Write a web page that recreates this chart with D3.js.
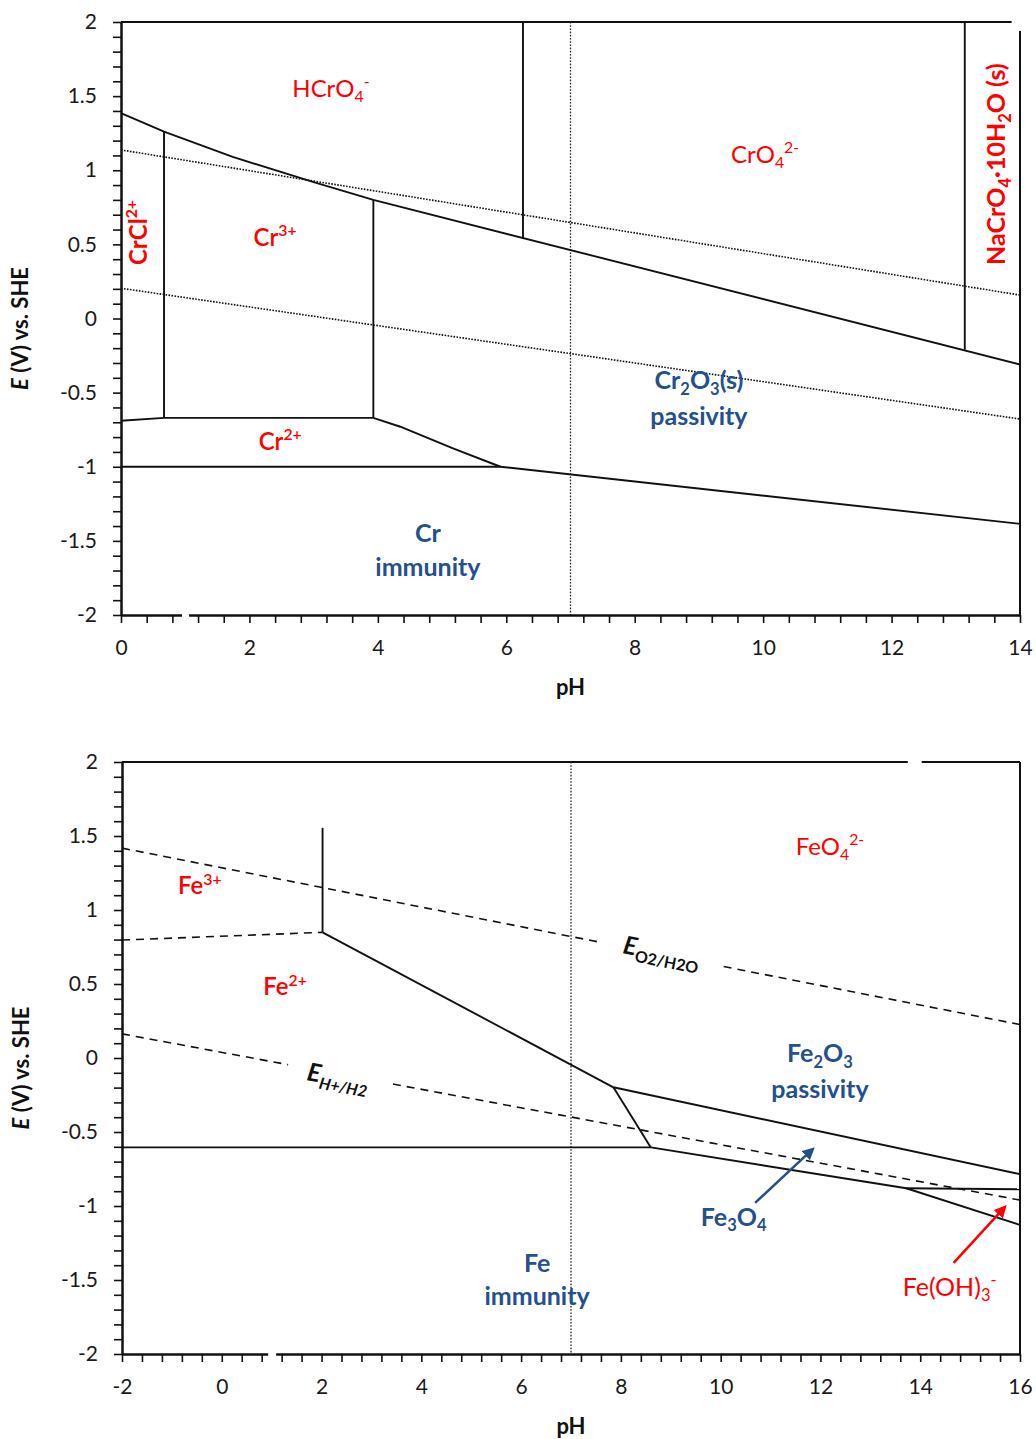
<!DOCTYPE html>
<html>
<head>
<meta charset="utf-8">
<script src="https://cdn.jsdelivr.net/npm/d3@7"></script>
<style>
  body { margin: 0; background: #fff; }
  svg text { font-family: Lato, "Open Sans", sans-serif; }
</style>
</head>
<body>
<svg id="chart" width="1036" height="1439"></svg>
<script>
// E axis is the same for both diagrams
const eTicks = [-2, -1.5, -1, -0.5, 0, 0.5, 1, 1.5, 2];

// ---- Cr diagram: boundaries as [pH, E (V)] ----
const crXTicks = [0, 2, 4, 6, 8, 10, 12, 14];
const crUpper = [[0, 1.385], [0.67, 1.26], [1.74, 1.09], [3.0, 0.92], [3.93, 0.80], [14, -0.31]];
const crHCrO4CrO4 = [[6.26, 2], [6.26, 0.54]];
const crNaCrO4 = [[13.14, 2], [13.14, -0.21]];
const crCrCl = [[0.67, 1.26], [0.67, -0.67]];
const crCr3Oxide = [[3.93, 0.80], [3.93, -0.67]];
const crCr2Top = [[0, -0.69], [0.67, -0.67], [3.93, -0.67], [4.35, -0.73], [5.17, -0.876], [5.91, -1.0]];
const crCr2Bottom = [[0, -1.0], [5.91, -1.0], [14, -1.385]];
const crWaterO2 = [[0, 1.137], [14, 0.158]];
const crWaterH2 = [[0, 0.204], [14, -0.678]];

// ---- Fe diagram ----
const feXTicks = [-2, 0, 2, 4, 6, 8, 10, 12, 14, 16];
const feO2Left = [[-2, 1.418], [7.54, 0.785]];
const feO2Right = [[10.06, 0.618], [16, 0.226]];
const feH2Left = [[-2, 0.163], [1.33, -0.045]];
const feH2Right = [[3.43, -0.176], [16, -0.96]];
const feFe3Fe2 = [[-2, 0.797], [2.02, 0.849]];
const feFe3Oxide = [[2.02, 0.849], [2.02, 1.555]];
const feFe2Oxide = [[2.02, 0.849], [7.85, -0.198]];
const feFe3O4Left = [[7.85, -0.198], [8.6, -0.604]];
const feFe2Metal = [[-2, -0.604], [8.6, -0.604]];
const feOxideFe3O4 = [[7.85, -0.198], [16, -0.785]];
const feFe3O4Metal = [[8.6, -0.604], [13.72, -0.88], [16, -1.128]];
const feFeOH3 = [[13.72, -0.88], [16, -0.887]];

const red = "#ff0000", blue = "#24508e";

// labels: [pH, E, parts, colour, weight, size]
const crLabels = [
  [3.27, 1.494, [["HCrO"], ["4", "sub"], ["-", "sup"]], red, 400, 24],
  [10.03, 1.049, [["CrO"], ["4", "sub"], ["2-", "sup"]], red, 400, 24],
  [2.40, 0.489, [["Cr"], ["3+", "sup"]], red, 600, 24],
  [2.48, -0.887, [["Cr"], ["2+", "sup"]], red, 600, 24],
  [9.0, -0.476, [["Cr"], ["2", "sub"], ["O"], ["3", "sub"], ["(s)"]], blue, 700, 25],
  [9.0, -0.716, [["passivity"]], blue, 700, 25],
  [4.78, -1.51, [["Cr"]], blue, 700, 25],
  [4.78, -1.74, [["immunity"]], blue, 700, 25]
];
const crRotLabels = [
  [0.405, 0.361, [["CrCl"], ["2+", "sup"]], red, 700, 24],
  [13.77, 0.361, [["NaCrO"], ["4", "sub"], ["·10H"], ["2", "sub"], ["O (s)"]], red, 700, 25]
];
const feLabels = [
  [-0.44, 1.107, [["Fe"], ["3+", "sup"]], red, 600, 24],
  [1.27, 0.425, [["Fe"], ["2+", "sup"]], red, 600, 24],
  [12.19, 1.371, [["FeO"], ["4", "sub"], ["2-", "sup"]], red, 400, 24],
  [11.99, -0.03, [["Fe"], ["2", "sub"], ["O"], ["3", "sub"]], blue, 700, 25],
  [11.99, -0.267, [["passivity"]], blue, 700, 25],
  [10.26, -1.134, [["Fe"], ["3", "sub"], ["O"], ["4", "sub"]], blue, 700, 25],
  [6.32, -1.445, [["Fe"]], blue, 700, 25],
  [6.32, -1.668, [["immunity"]], blue, 700, 25],
  [14.59, -1.607, [["Fe(OH)"], ["3", "sub"], ["-", "sup"]], red, 400, 25]
];
// arrows: from [pH, E] to [pH, E]
const feArrows = [
  [[10.69, -0.979], [11.85, -0.614], blue],
  [[14.67, -1.384], [15.70, -1.006], red]
];

const svg = d3.select("#chart");

const defs = svg.append("defs");
[["arrow-blue", blue], ["arrow-red", red]].forEach(([id, c]) => {
  defs.append("marker")
    .attr("id", id)
    .attr("viewBox", "0 0 10 10")
    .attr("refX", 8).attr("refY", 5)
    .attr("markerWidth", 5).attr("markerHeight", 5)
    .attr("orient", "auto")
    .append("path")
    .attr("d", "M0,0 L10,5 L0,10 z")
    .attr("fill", c);
});

function chemText(g, x, y, parts, colour, weight, size) {
  const t = g.append("text")
    .attr("x", x).attr("y", y)
    .attr("fill", colour)
    .attr("font-weight", weight)
    .attr("font-size", size);
  let shift = 0;
  parts.forEach(([s, kind]) => {
    let target = 0;
    if (kind === "sub") target = size * 0.22;
    if (kind === "sup") target = -size * 0.4;
    t.append("tspan")
      .attr("dy", target - shift)
      .attr("font-size", kind ? size * 0.66 : size)
      .text(s);
    shift = target;
  });
  return t;
}

function drawPanel(p) {
  const x = d3.scaleLinear().domain(p.xDomain).range([p.left, p.right]);
  const y = d3.scaleLinear().domain([-2, 2]).range([p.bottom, p.top]);
  const g = svg.append("g");
  const line = d3.line().x(d => x(d[0])).y(d => y(d[1]));

  // frame
  g.append("line")
    .attr("x1", x(p.xDomain[0])).attr("x2", x(p.xDomain[1]))
    .attr("y1", y(2)).attr("y2", y(2))
    .attr("stroke", "#111").attr("stroke-width", 2);
  g.append("line")
    .attr("x1", x(p.xDomain[1])).attr("x2", x(p.xDomain[1]))
    .attr("y1", y(2)).attr("y2", y(-2))
    .attr("stroke", "#111").attr("stroke-width", 2);

  // neutral pH
  g.append("line")
    .attr("x1", x(7)).attr("x2", x(7))
    .attr("y1", y(2)).attr("y2", y(-2))
    .attr("stroke", "#222").attr("stroke-width", 1.3)
    .attr("stroke-dasharray", "1.6,1.6");

  p.lines.forEach(l => {
    g.append("path")
      .attr("d", line(l.pts))
      .attr("fill", "none")
      .attr("stroke", "#111")
      .attr("stroke-width", l.style === "solid" ? 1.9 : 1.6)
      .attr("stroke-dasharray", l.style === "dotted" ? "1.6,1.4" : l.style === "dashed" ? "8,6" : null);
  });

  // axes
  const yMinor = d3.range(-20, 21).map(v => v / 10);
  const isY = v => eTicks.some(t => Math.abs(t - v) < 1e-6);
  const yAxis = g.append("g")
    .attr("transform", `translate(${p.left},0)`)
    .call(d3.axisLeft(y).tickValues(yMinor).tickSize(8).tickSizeOuter(0).tickPadding(16)
      .tickFormat(v => isY(v) ? String(Math.round(v * 10) / 10) : ""));

  const xMinor = d3.range(0, Math.round((p.xDomain[1] - p.xDomain[0]) / 0.4) + 1)
    .map(i => Math.round((p.xDomain[0] + i * 0.4) * 10) / 10);
  const isX = v => p.xTicks.some(t => Math.abs(t - v) < 1e-6);
  const xAxis = g.append("g")
    .attr("transform", `translate(0,${p.bottom})`)
    .call(d3.axisBottom(x).tickValues(xMinor).tickSize(8).tickSizeOuter(0).tickPadding(17)
      .tickFormat(v => isX(v) ? String(Math.round(v)) : ""));

  [yAxis, xAxis].forEach(a => {
    a.select(".domain").attr("stroke", "#111").attr("stroke-width", 2.5);
    a.selectAll(".tick line").attr("stroke", "#111").attr("stroke-width", 1.6);
    a.selectAll(".tick text").attr("font-size", 21).attr("fill", "#1a1a1a");
  });

  // small white breaks seen in the original scan
  p.breaks.forEach(b => {
    g.append("rect")
      .attr("x", x(b[0])).attr("width", x(b[1]) - x(b[0]))
      .attr("y", y(b[2]) - 3).attr("height", y(b[3]) - y(b[2]) + 6)
      .attr("fill", "#fff");
  });

  // labels
  p.labels.forEach(([lx, ly, parts, c, w, s]) => {
    chemText(g, x(lx), y(ly), parts, c, w, s).attr("text-anchor", "middle");
  });
  (p.rotLabels || []).forEach(([lx, ly, parts, c, w, s]) => {
    chemText(g, 0, 0, parts, c, w, s)
      .attr("transform", `translate(${x(lx)},${y(ly)}) rotate(-90)`);
  });
  (p.arrows || []).forEach(([a, b, c]) => {
    g.append("line")
      .attr("x1", x(a[0])).attr("y1", y(a[1]))
      .attr("x2", x(b[0])).attr("y2", y(b[1]))
      .attr("stroke", c).attr("stroke-width", 2.5)
      .attr("marker-end", `url(#${c === red ? "arrow-red" : "arrow-blue"})`);
  });
  (p.potLabels || []).forEach(([lx, ly, sub, subItalic, ang]) => {
    const t = g.append("text")
      .attr("transform", `translate(${x(lx)},${y(ly)}) rotate(${ang})`)
      .attr("font-weight", 700).attr("fill", "#111");
    t.append("tspan").attr("font-size", 25).attr("font-style", "italic").text("E");
    t.append("tspan").attr("font-size", 16).attr("dy", 6)
      .attr("font-style", subItalic ? "italic" : "normal").text(sub);
  });

  // axis titles
  const yt = g.append("text")
    .attr("transform", `translate(${p.left - 93},${(p.top + p.bottom) / 2 + 10}) rotate(-90)`)
    .attr("text-anchor", "middle").attr("font-weight", 700).attr("font-size", 22).attr("fill", "#111");
  yt.append("tspan").attr("font-style", "italic").text("E");
  yt.append("tspan").text(" (V) vs. SHE");
  g.append("text")
    .attr("x", x(7)).attr("y", p.bottom + 80)
    .attr("text-anchor", "middle").attr("font-weight", 700).attr("font-size", 22).attr("fill", "#111")
    .text("pH");
}

drawPanel({
  xDomain: [0, 14], xTicks: crXTicks,
  left: 121, right: 1020, top: 22, bottom: 615,
  lines: [
    { pts: crUpper, style: "solid" },
    { pts: crHCrO4CrO4, style: "solid" },
    { pts: crNaCrO4, style: "solid" },
    { pts: crCrCl, style: "solid" },
    { pts: crCr3Oxide, style: "solid" },
    { pts: crCr2Top, style: "solid" },
    { pts: crCr2Bottom, style: "solid" },
    { pts: crWaterO2, style: "dotted" },
    { pts: crWaterH2, style: "dotted" }
  ],
  breaks: [[0.95, 1.06, -2, -2], [13.87, 14.03, 2, 1.96]],
  labels: crLabels,
  rotLabels: crRotLabels
});

drawPanel({
  xDomain: [-2, 16], xTicks: feXTicks,
  left: 122, right: 1020, top: 762, bottom: 1354,
  lines: [
    { pts: feO2Left, style: "dashed" },
    { pts: feO2Right, style: "dashed" },
    { pts: feH2Left, style: "dashed" },
    { pts: feH2Right, style: "dashed" },
    { pts: feFe3Fe2, style: "dashed" },
    { pts: feFe3Oxide, style: "solid" },
    { pts: feFe2Oxide, style: "solid" },
    { pts: feFe3O4Left, style: "solid" },
    { pts: feFe2Metal, style: "solid" },
    { pts: feOxideFe3O4, style: "solid" },
    { pts: feFe3O4Metal, style: "solid" },
    { pts: feFeOH3, style: "solid" }
  ],
  breaks: [[0.93, 1.09, -2, -2], [13.75, 14.03, 2, 2]],
  labels: feLabels,
  arrows: feArrows,
  potLabels: [
    [8.02, 0.709, "O2/H2O", false, 11],
    [1.69, -0.149, "H+/H2", true, 10.5]
  ]
});
</script>
</body>
</html>
